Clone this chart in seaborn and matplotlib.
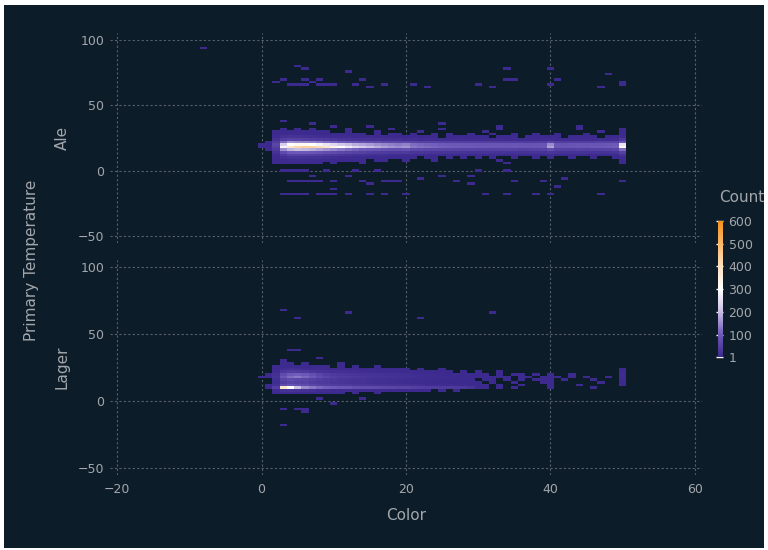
import numpy as np
import pandas as pd
import matplotlib
matplotlib.use("Agg")
import matplotlib.pyplot as plt
import seaborn as sns
from matplotlib.colors import LinearSegmentedColormap, Normalize
from matplotlib.cm import ScalarMappable
from matplotlib.patches import Rectangle

# ---------------- data (binned counts) ----------------
# colour bins 0..50 (step 1), temperature bins step 2
ale_temps = [32, 30, 28, 26, 24, 22, 20, 18, 16, 14, 12, 10, 8, 6]
ale_t32 = [0,0,0,1,0,1,0,1,0,0, 0,0,1,0,0,0,0,0,1,0, 0,0,0,0,0,1,0,0,0,0, 0,0,0,1,0,0,0,0,0,0, 0,0,0,0,1,0,0,0,0,0, 1]
ale_t30 = [0,0,1,2,3,2,2,1,1,1, 0,0,1,0,0,0,1,0,0,0, 0,0,1,0,0,0,0,0,0,0, 0,1,0,0,0,0,0,0,0,0, 0,0,0,0,0,0,0,1,0,0, 2]
ale_t28 = [0,0,2,5,7,6,5,4,3,3, 2,2,1,2,1,0,1,0,1,1, 0,1,0,0,1,0,1,0,0,1, 0,0,1,0,0,1,0,0,1,0, 0,1,0,0,0,1,0,0,0,0, 3]
ale_t26 = [0,0,6,16,20,18,16,14,12,10, 8,7,6,5,5,4,3,4,2,3, 2,3,1,2,2,0,2,1,2,1, 1,2,0,1,2,1,0,2,1,1, 2,1,0,1,1,2,1,0,1,1, 8]
ale_t24 = [0,0,18,42,52,50,46,42,38,34, 30,26,24,22,20,18,16,15,14,13, 12,11,10,11,9,10,8,9,10,8, 9,8,7,9,8,7,8,6,8,9, 10,7,8,6,7,8,7,9,8,10, 30]
ale_t22 = [0,1,40,120,160,150,145,140,130,120, 110,100,92,85,80,74,70,66,62,60, 60,55,52,50,50,48,47,46,45,46, 44,43,44,42,42,43,41,40,42,44, 60,44,43,44,45,44,46,48,50,52, 90]
ale_t20 = [2,3,60,230,300,320,310,300,280,260, 240,220,200,185,175,165,155,145,138,132, 140,118,112,108,104,100,98,96,95,94, 92,92,90,90,88,90,88,86,88,90, 150,88,86,88,90,88,90,92,95,100, 260]
ale_t18 = [2,3,50,280,380,420,440,430,410,380, 340,300,270,240,220,200,185,170,160,150, 160,130,122,118,112,108,105,102,100,100, 98,96,95,94,94,95,92,90,92,95, 170,92,90,92,94,92,95,98,100,105, 330]
ale_t16 = [0,1,35,150,190,200,195,185,170,160, 145,130,120,110,100,94,88,82,78,75, 80,66,62,60,58,56,55,54,52,52, 50,50,49,48,48,49,47,46,48,50, 70,48,46,47,48,47,48,50,52,55, 120]
ale_t14 = [0,0,18,70,95,100,98,92,85,78, 70,62,56,52,48,44,40,38,35,33, 34,28,27,26,25,24,24,23,22,22, 21,21,20,20,20,21,20,19,20,21, 28,20,19,20,20,19,20,21,22,24, 50]
ale_t12 = [0,0,10,35,48,50,47,44,40,36, 30,26,22,19,17,15,13,12,10,9, 8,7,6,7,5,6,5,4,6,4, 5,3,4,4,3,4,2,3,4,3, 5,3,2,3,4,2,3,4,3,4, 20]
ale_t10 = [0,0,5,14,20,20,18,16,14,12, 10,8,6,5,4,3,3,2,2,1, 2,1,0,1,1,0,1,0,1,0, 1,0,1,0,0,1,0,0,1,0, 1,0,0,1,0,0,1,0,0,1, 8]
ale_t8 = [0,0,2,5,8,7,6,5,4,3, 2,2,1,1,1,0,1,1,0,0, 1,0,0,0,1,0,0,0,0,0, 0,0,0,1,0,0,0,0,0,0, 0,0,0,0,0,0,0,0,0,0, 3]
ale_t6 = [0,0,1,2,3,2,1,1,1,0, 1,0,0,0,1,0,0,0,0,0, 0,0,0,0,0,0,0,0,0,0, 0,0,0,0,1,0,0,0,0,0, 0,0,0,0,0,0,0,0,0,0, 1]

lager_temps = [28, 26, 24, 22, 20, 18, 16, 14, 12, 10, 8, 6]
lag_t28 = [0,0,0,1,1,0,1,0,0,0, 0,1,0,0,0,0,0,0,0,0, 0,0,0,0,0,0,0,0,0,0, 0,0,0,0,0,0,0,0,0,0, 0,0,0,0,0,0,0,0,0,0, 0]
lag_t26 = [0,0,1,3,4,2,2,1,1,1, 0,1,0,1,0,0,1,0,0,0, 0,0,0,0,0,0,0,0,0,0, 0,0,0,0,0,0,0,0,0,0, 0,0,0,0,0,0,0,0,0,0, 0]
lag_t24 = [0,0,3,10,14,12,10,8,6,5, 4,4,3,3,2,2,2,1,1,1, 1,0,1,0,0,1,0,0,0,0, 0,0,0,0,0,0,0,0,0,0, 0,0,0,0,0,0,0,0,0,0, 0]
lag_t22 = [0,0,8,30,40,38,34,28,22,18, 15,13,12,11,10,9,8,7,6,6, 5,4,3,2,3,1,2,0,1,0, 1,0,0,1,0,0,0,0,0,0, 0,0,0,0,0,0,0,0,0,0, 1]
lag_t20 = [0,1,15,70,100,105,95,80,60,45, 35,30,27,25,22,20,18,16,14,13, 11,9,8,6,5,4,3,4,2,3, 1,2,0,1,0,1,1,0,1,0, 1,0,0,1,0,0,0,0,0,0, 4]
lag_t18 = [0,1,18,90,120,130,115,95,70,55, 45,38,34,30,27,24,22,20,18,16, 14,12,10,8,7,6,5,4,3,3, 2,1,2,1,1,0,2,1,0,2, 1,1,0,1,0,1,0,0,1,0, 6]
lag_t16 = [0,0,12,55,70,65,58,50,42,36, 30,26,23,21,19,17,15,14,12,11, 10,8,6,5,4,3,3,2,2,1, 0,1,1,0,1,0,1,0,1,1, 2,0,1,0,0,0,1,0,0,0, 3]
lag_t14 = [0,0,10,45,55,52,48,42,36,32, 28,25,22,20,18,16,14,13,11,10, 9,7,6,5,4,3,2,3,1,2, 1,0,1,0,0,1,0,0,0,1, 1,0,0,0,0,0,0,1,0,0, 1]
lag_t12 = [0,1,14,70,85,78,68,58,50,44, 40,36,32,29,27,25,23,21,19,18, 16,14,12,10,8,7,6,5,4,3, 1,1,0,1,0,0,1,0,0,0, 1,0,0,0,1,0,0,0,0,0, 1]
lag_t10 = [0,2,45,380,300,200,150,130,115,105, 100,92,86,80,75,72,68,64,60,56, 55,48,45,42,40,38,35,32,30,20, 2,1,0,1,0,1,0,0,0,0, 1,0,0,0,0,0,1,0,0,0, 0]
lag_t8 = [0,0,6,18,22,18,14,12,10,9, 8,7,6,6,5,5,4,4,3,3, 2,2,1,1,0,1,0,1,0,0, 0,0,0,0,0,0,0,0,0,0, 0,0,0,0,0,0,0,0,0,0, 0]
lag_t6 = [0,0,1,3,4,3,2,2,1,1, 1,1,0,1,0,0,1,0,0,0, 0,0,0,0,0,0,0,0,0,0, 0,0,0,0,0,0,0,0,0,0, 0,0,0,0,0,0,0,0,0,0, 0]

# sparse outlying cells (colour, temperature, count)
ale_out_color = [-8, 5, 5.5, 3, 2.4, 4, 5, 6, 7, 8, 9, 10, 6, 8, 12, 13.6, 13, 15, 17, 20.5, 23, 30, 32, 34, 34, 35, 40, 40, 41, 46.5, 48, 50, 50,
                 3, 7, 10, 15, 25, 33, 44,
                 2.9, 3.6, 5, 6.3, 9, 12.6, 15.5, 30, 33.7,
                 4, 5, 6, 7, 7.4, 8, 9.6, 11.5, 14, 14.5, 17, 18, 19, 22, 25, 26.5, 29, 29, 34.5, 39, 41.5, 41, 50, 9.6,
                 2.6, 3.5, 4.5, 5.5, 6, 8, 9, 10, 11.5, 15, 16.5, 19.7, 30.7, 34, 38, 40, 46.6]
ale_out_temp = [94, 80, 78, 70, 67, 66, 65, 66, 67, 66, 65, 66, 69, 69, 76, 69, 65, 64, 65, 66, 64, 65, 64, 78, 70, 70, 78, 66, 69, 64, 74, 66, 68,
                38, 36, 34, 33, 35, 33, 34,
                -1, -1, -1, -1, -1, -1, -1, -1, -1,
                -9, -8, -8, -8, -5, -8, -8, -5, -8, -10, -8, -8, -8, -7, -5, -8, -5, -10, -8, -8, -7, -13, -8, -14,
                -18, -18, -18, -18, -18, -18, -18, -18, -18, -18, -18, -18, -18, -18, -18, -18, -18]
ale_out_count = [1, 1, 1, 2, 2, 3, 3, 3, 2, 3, 2, 2, 2, 1, 1, 1, 2, 2, 1, 2, 1, 1, 1, 1, 1, 1, 1, 1, 1, 1, 1, 2, 1,
                 1, 1, 1, 1, 1, 1, 1,
                 2, 2, 2, 1, 1, 1, 1, 1, 1,
                 2, 2, 2, 2, 1, 2, 1, 1, 1, 1, 1, 1, 1, 1, 1, 1, 1, 1, 1, 1, 1, 1, 1, 1,
                 2, 3, 3, 2, 2, 2, 2, 2, 1, 1, 2, 1, 1, 1, 1, 1, 1]

lag_out_color = [4, 5, 7.6, 3, 50, 50, 2.5, 5, 6, 5.6, 10.4, 13.6, 7.8, 3, 3, 4.6, 11.5, 32, 22, 0]
lag_out_temp = [37, 38, 32, 30, 20, 24, -7, -6, -7, -9, -2, 2, 1, -18, 68, 62, 66, 66, 62, 17]
lag_out_count = [1, 1, 1, 1, 3, 2, 1, 1, 1, 1, 1, 1, 1, 1, 1, 1, 1, 1, 1, 1]

facet_names = ["Ale", "Lager"]
x_ticks = [-20, 0, 20, 40, 60]
y_ticks = [-50, 0, 50, 100]
cbar_ticks = [1, 100, 200, 300, 400, 500, 600]

# ---------------- build tables ----------------
def grid_frame(temps, rows, out_c, out_t, out_n):
    recs = []
    for t, row in zip(temps, rows):
        assert len(row) == 51
        for c, n in enumerate(row):
            if n > 0:
                recs.append((c, t, n))
    for c, t, n in zip(out_c, out_t, out_n):
        recs.append((c, t, n))
    return pd.DataFrame(recs, columns=["Color", "Temp", "Count"])

ale_rows = [ale_t32, ale_t30, ale_t28, ale_t26, ale_t24, ale_t22, ale_t20, ale_t18, ale_t16, ale_t14, ale_t12, ale_t10, ale_t8, ale_t6]
lag_rows = [lag_t28, lag_t26, lag_t24, lag_t22, lag_t20, lag_t18, lag_t16, lag_t14, lag_t12, lag_t10, lag_t8, lag_t6]
frames = [grid_frame(ale_temps, ale_rows, ale_out_color, ale_out_temp, ale_out_count),
          grid_frame(lager_temps, lag_rows, lag_out_color, lag_out_temp, lag_out_count)]

# ---------------- style ----------------
BG = "#0d1c29"
TXT = "#a3a7ab"
GRID = "#56606a"
sns.set_theme(style="dark")
plt.rcParams["font.family"] = ["DejaVu Sans"]

cmap = LinearSegmentedColormap.from_list(
    "cnt", [(0.0, "#3d2a8e"), (1/6, "#6e5ab8"), (2/6, "#c9bfe4"), (0.5, "#ffffff"),
            (4/6, "#fde1be"), (5/6, "#fbb86a"), (1.0, "#f7921c")])
norm = Normalize(vmin=1, vmax=600)

fig = plt.figure(figsize=(7.68, 5.5), dpi=100)
fig.patch.set_facecolor("white")
fig.patches.append(Rectangle((4/768, 2/550), 760/768, 543/550, transform=fig.transFigure,
                             facecolor=BG, edgecolor="none", zorder=-10))

axes_pos = [[110/768, 1 - 243/550, 592/768, 210/550],
            [110/768, 1 - 475/550, 592/768, 215/550]]
xedges = np.concatenate([np.arange(-8.5, -0.5, 1.0), np.arange(-0.5, 51.0, 1.0)])
yedges = np.arange(-21, 101, 2.0)

for i, (pos, df, name) in enumerate(zip(axes_pos, frames, facet_names)):
    ax = fig.add_axes(pos)
    ax.set_facecolor(BG)
    sns.histplot(data=df, x="Color", y="Temp", weights="Count", bins=[xedges, yedges],
                 cmap=cmap, vmin=1, vmax=600, ax=ax, zorder=2)
    ax.set_xlim(-21, 61)
    ax.set_ylim(-55.4, 105.4)
    ax.set_xticks(x_ticks)
    ax.set_yticks(y_ticks)
    ax.grid(True, color=GRID, linestyle=(0, (2, 2)), linewidth=0.8, zorder=0)
    ax.set_axisbelow(True)
    for s in ax.spines.values():
        s.set_visible(False)
    ax.tick_params(axis="both", length=0, colors=TXT, labelsize=9, pad=4)
    ax.set_ylabel(name, color=TXT, fontsize=11, labelpad=6)
    if i == 0:
        ax.set_xticklabels([])
        ax.set_xlabel("")
    else:
        ax.set_xlabel("Color", color=TXT, fontsize=11, labelpad=9)
        ax.tick_params(axis="x", pad=5.5)

fig.text(32/768, 1 - 260/550, "Primary Temperature", rotation=90, color=TXT,
         fontsize=11, ha="center", va="center")

cax = fig.add_axes([718/768, 1 - 357/550, 5/768, 136/550])
cb = fig.colorbar(ScalarMappable(norm=norm, cmap=cmap), cax=cax)
cb.outline.set_visible(False)
cb.set_ticks(cbar_ticks)
cb.set_ticklabels([str(t) for t in cbar_ticks])
cax.tick_params(direction="in", length=5, width=1, color="white", labelcolor=TXT,
                labelsize=9, pad=4)
fig.text(742/768, 1 - 197/550, "Count", color=TXT, fontsize=11, ha="center", va="center")

fig.savefig("out.png", dpi=100, facecolor=fig.get_facecolor())
